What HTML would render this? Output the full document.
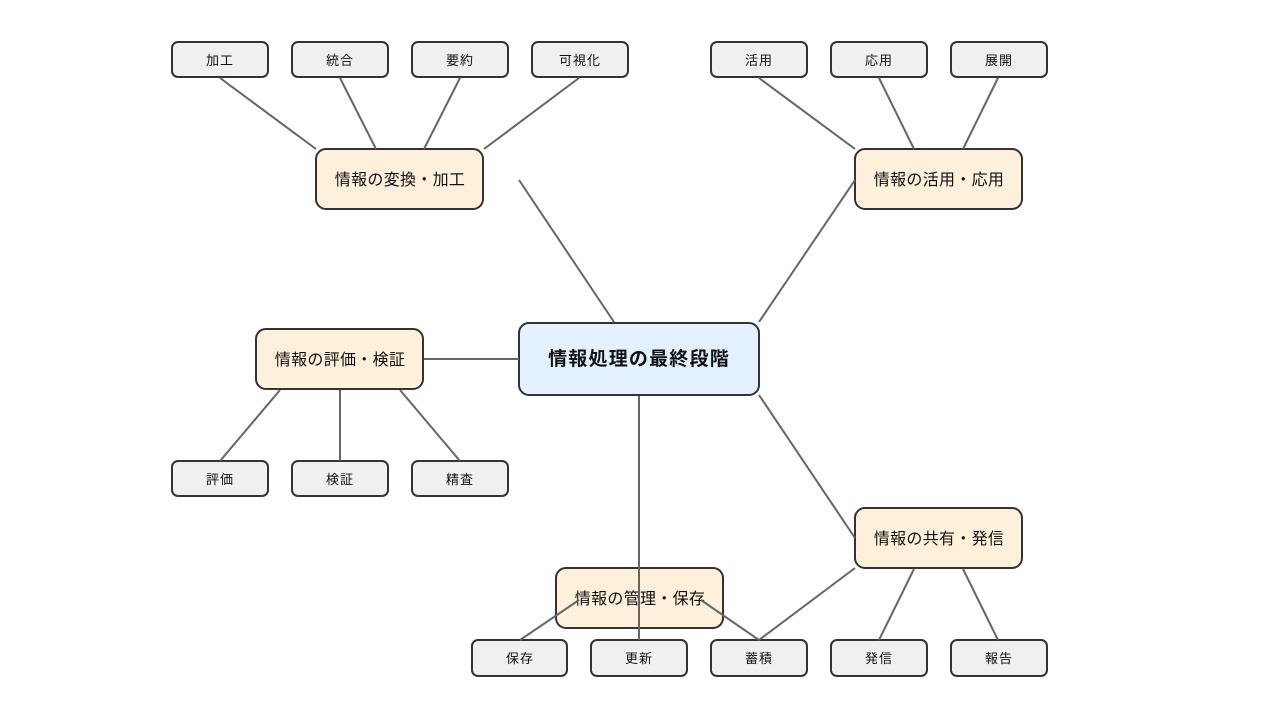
<!DOCTYPE html>
<html><head><meta charset="utf-8"><style>
html,body{margin:0;padding:0;background:#fff;}
svg{display:block;}
text{font-family:"Liberation Sans","Noto Sans CJK JP",sans-serif;fill:#111;}
.s rect{fill:#f0f0f0;stroke:#333;stroke-width:2;}
.m rect{fill:#fff0db;stroke:#333;stroke-width:2;}
.st{font-size:13px;letter-spacing:1px;}
.mt{font-size:16px;letter-spacing:0.3px;}
line{stroke:#666;stroke-width:2;}
</style></head><body>
<svg width="1280" height="720" viewBox="0 0 1280 720" xmlns="http://www.w3.org/2000/svg">
<g class="s">
<rect x="172" y="42" width="96" height="35" rx="6"/>
<rect x="292" y="42" width="96" height="35" rx="6"/>
<rect x="412" y="42" width="96" height="35" rx="6"/>
<rect x="532" y="42" width="96" height="35" rx="6"/>
<rect x="711" y="42" width="96" height="35" rx="6"/>
<rect x="831" y="42" width="96" height="35" rx="6"/>
<rect x="951" y="42" width="96" height="35" rx="6"/>
<rect x="172" y="461" width="96" height="35" rx="6"/>
<rect x="292" y="461" width="96" height="35" rx="6"/>
<rect x="412" y="461" width="96" height="35" rx="6"/>
<rect x="472" y="640" width="95" height="36" rx="6"/>
<rect x="591" y="640" width="96" height="36" rx="6"/>
<rect x="711" y="640" width="96" height="36" rx="6"/>
<rect x="831" y="640" width="96" height="36" rx="6"/>
<rect x="951" y="640" width="96" height="36" rx="6"/>
</g>
<g class="m">
<rect x="316" y="149" width="167" height="60" rx="10"/>
<rect x="855" y="149" width="167" height="60" rx="10"/>
<rect x="256" y="329" width="167" height="60" rx="10"/>
<rect x="556" y="568" width="167" height="60" rx="10"/>
<rect x="855" y="508" width="167" height="60" rx="10"/>
</g>
<rect x="519" y="323" width="240" height="72" rx="10" fill="#e3f0fd" stroke="#333" stroke-width="2"/>

<g class="st" text-anchor="middle">
<text x="220" y="65">加工</text>
<text x="340" y="65">統合</text>
<text x="460" y="65">要約</text>
<text x="580" y="65">可視化</text>
<text x="759" y="65">活用</text>
<text x="879" y="65">応用</text>
<text x="999" y="65">展開</text>
<text x="220" y="484">評価</text>
<text x="340" y="484">検証</text>
<text x="460" y="484">精査</text>
<text x="520" y="663">保存</text>
<text x="639" y="663">更新</text>
<text x="759" y="663">蓄積</text>
<text x="879" y="663">発信</text>
<text x="999" y="663">報告</text>
</g>
<g class="mt" text-anchor="middle">
<text x="400" y="185">情報の変換・加工</text>
<text x="939" y="185">情報の活用・応用</text>
<text x="340" y="365">情報の評価・検証</text>
<text x="640" y="604">情報の管理・保存</text>
<text x="939" y="544">情報の共有・発信</text>
</g>
<text x="639" y="365" text-anchor="middle" style="font-size:19px;font-weight:bold;letter-spacing:1.2px;">情報処理の最終段階</text>

<line x1="220" y1="78" x2="316" y2="149"/>
<line x1="340" y1="78" x2="376" y2="149"/>
<line x1="460" y1="78" x2="424" y2="149"/>
<line x1="579" y1="78" x2="484" y2="149"/>
<line x1="759" y1="78" x2="855" y2="149"/>
<line x1="879" y1="78" x2="914" y2="149"/>
<line x1="998" y1="78" x2="963" y2="149"/>
<line x1="614" y1="322" x2="519" y2="180"/>
<line x1="759" y1="322" x2="855" y2="180"/>
<line x1="519" y1="359" x2="424" y2="359"/>
<line x1="639" y1="396" x2="639" y2="640"/>
<line x1="759" y1="395" x2="855" y2="538"/>
<line x1="280" y1="390" x2="220" y2="461"/>
<line x1="340" y1="390" x2="340" y2="461"/>
<line x1="400" y1="390" x2="460" y2="461"/>
<line x1="914" y1="569" x2="879" y2="640"/>
<line x1="963" y1="569" x2="998" y2="640"/>
<line x1="855" y1="568" x2="759" y2="640"/>
<line x1="579" y1="600" x2="520" y2="640"/>
<line x1="701" y1="600" x2="759" y2="640"/>
</svg>
</body></html>
